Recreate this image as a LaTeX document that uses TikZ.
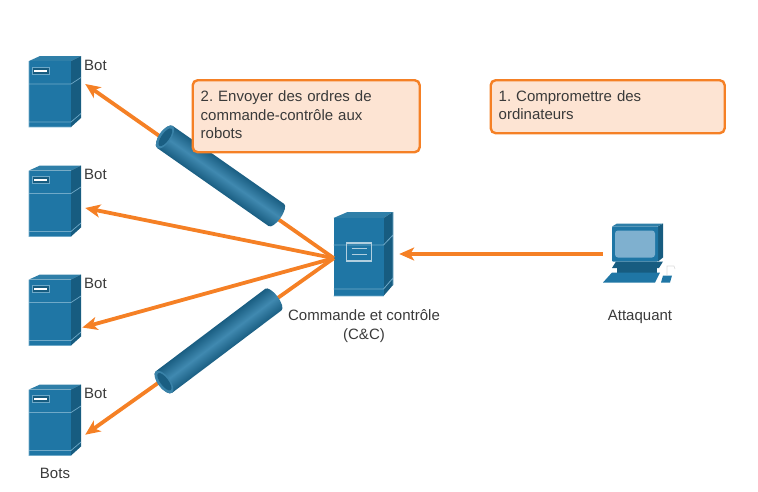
\documentclass[tikz,border=0pt]{standalone}
\usepackage{fontspec}
\setmainfont{Liberation Sans}
\usetikzlibrary{arrows.meta, positioning}
\definecolor{wire}{HTML}{F58025}
\definecolor{notefill}{HTML}{FDE4D3}
\definecolor{front}{HTML}{1F76A5}
\definecolor{side}{HTML}{175C80}
\definecolor{topface}{HTML}{2F7FA8}
\definecolor{edgeline}{HTML}{6FA9C8}
\definecolor{screen}{HTML}{7FB0CF}
\definecolor{tubedark}{HTML}{1A5E82}
\definecolor{tubelight}{HTML}{4089B0}
\definecolor{ink}{HTML}{3A3A3A}
\frenchspacing
\tikzset{
  lbl/.style={font=\fontsize{15}{19}\selectfont, text=ink, inner sep=0pt, align=center},
  note/.style={draw=wire, line width=2.4pt, fill=notefill, rounded corners=5pt, anchor=north west,
    font=\fontsize{15}{18.5}\selectfont, text=ink, align=left, inner xsep=8pt, inner ysep=0pt,
    execute at end node={\par\vspace{3pt}}},
  hitbox/.style={inner sep=0pt, minimum width=60pt, minimum height=71pt},
  order/.style={draw=wire, line width=3.8pt, -{Stealth[length=15pt, width=13pt, inset=4pt]}},
  botserver/.pic={
    \fill[topface] (-26,-30.5) -- (-15,-35.5) -- (26,-35.5) -- (16,-30.5) -- cycle;
    \fill[side] (16,-30.5) -- (26,-35.5) -- (26,26.5) -- (16,35.5) -- cycle;
    \fill[front] (-26,-30.5) rectangle (16,35.5);
    \draw[edgeline, line width=.7pt] (-26,-7.5) -- (16,-7.5) -- (26,-14)
      (-26,30.5) -- (16,30.5) -- (26,22) (-26,-30.5) -- (-26,35.5) -- (16,35.5);
    \fill[side, draw=edgeline, line width=.5pt] (-23,-24.5) rectangle (-6,-17.5);
    \fill[white] (-21,-22) rectangle (-8,-20);
  },
  ccserver/.pic={
    \fill[topface] (-30,-36) -- (-16,-42) -- (29.5,-42) -- (20,-36) -- cycle;
    \fill[side] (20,-36) -- (29.5,-42) -- (29.5,31) -- (20,42) -- cycle;
    \fill[front] (-30,-36) rectangle (20,42);
    \draw[edgeline, line width=.8pt] (-30,-9) -- (20,-9) -- (29.5,-19)
      (-30,35) -- (20,35) -- (29.5,24) (-30,42) -- (20,42) (29.5,-42) -- (29.5,31);
    \draw[white!65!front, line width=1.2pt] (-17,-11) rectangle (8,7);
    \draw[white!65!front, line width=1.2pt] (-12,-5.5) -- (3,-5.5) (-12,.5) -- (3,.5);
  },
  attacker/.pic={
    \fill[topface] (-27,-27.5) -- (-22,-30.5) -- (24,-30.5) -- (19,-27.5) -- cycle;
    \fill[side] (19,-27.5) -- (24,-30.5) -- (24,3.5) -- (19,7.5) -- cycle;
    \fill[front, rounded corners=1pt] (-27,-27.5) rectangle (19,7.5);
    \fill[screen, rounded corners=3pt] (-24,-23.5) rectangle (16,3.5);
    \fill[side] (-27,14) -- (-23,7.5) -- (24,7.5) -- (20,14) -- cycle;
    \fill[side] (-22,14) rectangle (18,19);
    \fill[front] (-36,28.5) -- (-27,18.5) -- (21,18.5) -- (16,28.5) -- cycle;
    \fill[front] (22,28.5) -- (24,21.5) -- (33,21.5) -- (31,28.5) -- cycle;
    \draw[black!15, line width=.6pt] (28,21) -- (28,12) -- (35,12) -- (36,15);
  },
  tube/.pic={
    \shade[top color=tubedark, bottom color=tubedark, middle color=tubelight]
      (0,-13.5) -- (#1,-13.5) arc (-90:90:5 and 13.5) -- (0,13.5) arc (90:270:6 and 13.5) -- cycle;
    \fill[tubelight!85!tubedark] (0,0) ellipse (6 and 13.5);
    \fill[tubedark] (0.5,0) ellipse (4 and 10.5);
  },
}
\begin{document}
\begin{tikzpicture}[x=1pt, y=-1pt]
  \useasboundingbox (0,0) rectangle (758,491);
  % servers
  \foreach \i/\y in {1/91.5, 2/201, 3/310, 4/420} {
    \node[hitbox] (bot\i) at (55,\y) {};
    \pic at (bot\i) {botserver};
    \node[lbl, anchor=west] (botlabel\i) at (84,\y-26.5) {Bot};
  }
  \node[inner sep=0pt, minimum width=59pt, minimum height=84pt] (cc) at (363.5,254) {};
  \pic at (cc) {ccserver};
  \node[inner sep=0pt, minimum width=72pt, minimum height=61pt] (pc) at (639,254) {};
  \pic at (pc) {attacker};
  % orders
  \draw[order] (cc.188) -- (bot1.14);
  \draw[order] (cc.188) -- (bot2.-13);
  \draw[order, shorten >=-3pt] (cc.188) -- (bot3.-29);
  \draw[order] (cc.188) -- (bot4.-26.5);
  \draw[order, shorten >=6pt] (pc.west) -- (cc.east);
  % tubes
  \pic[transform canvas={shift={(165,137)}, rotate=-35}] {tube=136};
  \pic[transform canvas={shift={(164,382)}, rotate=37}] {tube=137};
  % notes
  \node[note, text width=211pt, minimum height=72pt] (order) at (191.5,79)
    {2. Envoyer des ordres de\\commande-contrôle aux\\robots};
  \node[note, text width=218pt, minimum height=53pt] (infect) at (489.5,79)
    {1. Compromettre des\\ordinateurs};
  % labels
  \node[lbl] (bots) at (55,473) {Bots};
  \node[lbl] (cclabel) at (364,326.5) {Commande et contrôle\\(C\&C)};
  \node[lbl] (pclabel) at (640,317) {Attaquant};
\end{tikzpicture}
\end{document}
